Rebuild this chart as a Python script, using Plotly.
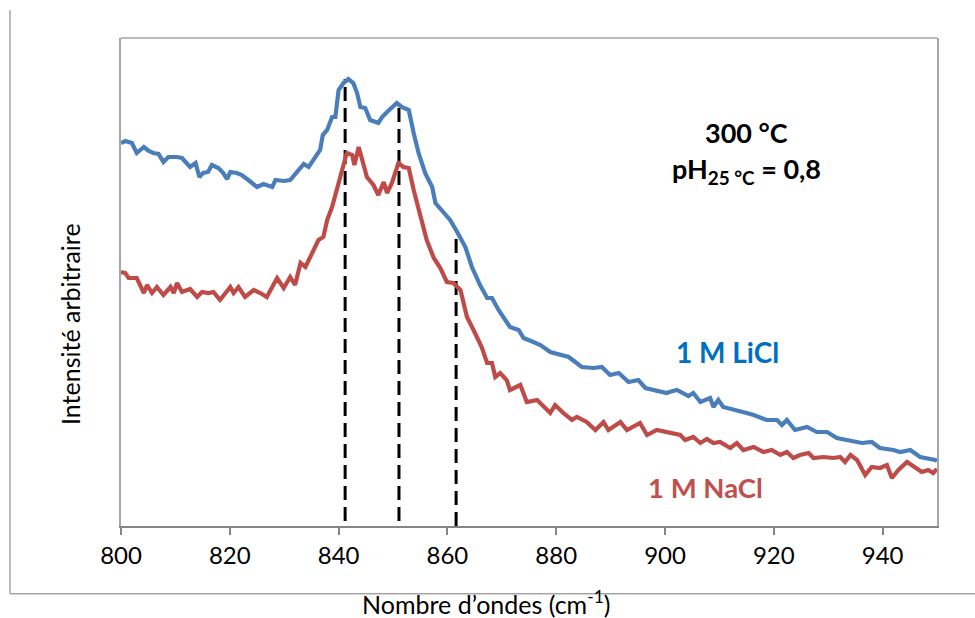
import plotly.graph_objects as go

# ---- data (intensity in arbitrary units) ----
licl_x = [800.0, 800.8, 802.0, 802.9, 804.2, 805.1, 805.9, 806.9, 807.8, 808.7, 810.3, 811.2, 812.7, 813.7,
          814.4, 815.1, 816.0, 816.7, 817.9, 818.8, 819.5, 820.1, 821.3, 822.2, 823.4, 825.0, 826.2, 827.8,
          828.4, 829.9, 831.1, 832.3, 833.6, 834.5, 835.7, 836.6, 837.1, 837.9, 838.8, 839.4, 840.0, 840.9,
          841.8, 842.7, 843.4, 844.0, 844.9, 845.8, 847.3, 848.0, 848.9, 849.8, 850.7, 851.6, 852.9, 853.8,
          854.7, 855.9, 857.2, 857.8, 859.3, 860.5, 861.8, 863.3, 864.5, 866.0, 867.3, 868.2, 869.4, 870.0,
          871.5, 873.1, 874.0, 875.8, 877.1, 878.9, 881.3, 882.3, 883.5, 884.7, 886.9, 888.4, 889.9, 891.5,
          893.3, 895.1, 896.4, 897.9, 900.3, 900.8, 902.2, 904.3, 905.2, 906.5, 908.3, 908.9, 909.8, 910.7,
          913.2, 915.0, 916.3, 918.7, 920.6, 921.5, 922.4, 923.9, 926.1, 927.9, 929.8, 931.6, 933.4, 936.2,
          938.0, 939.5, 942.0, 943.2, 945.1, 946.9, 949.7, 950.0]
licl_y = [383, 385, 383, 373, 379, 375, 373, 372, 364, 369, 369, 368, 359, 363,
          349, 353, 354, 361, 358, 353, 347, 354, 353, 351, 346, 339, 342, 339,
          346, 345, 346, 353, 362, 359, 369, 376, 391, 396, 409, 409, 436, 443,
          447, 443, 433, 419, 418, 406, 403, 409, 414, 419, 423, 419, 416, 393,
          373, 353, 339, 323, 313, 306, 294, 279, 259, 241, 228, 228, 216, 211,
          199, 196, 188, 184, 181, 174, 171, 169, 164, 159, 158, 159, 151, 153,
          144, 146, 138, 136, 133, 134, 136, 130, 133, 124, 128, 119, 126, 119,
          116, 113, 111, 106, 106, 101, 106, 96, 99, 94, 94, 88, 86, 83,
          84, 78, 76, 74, 76, 69, 66, 65]

nacl_x = [800.0, 800.8, 801.4, 802.9, 804.2, 804.8, 805.7, 806.6, 807.8, 809.1, 809.7, 810.3, 811.2, 812.7,
          814.0, 814.9, 816.1, 817.0, 818.2, 820.1, 820.7, 821.6, 822.8, 824.4, 825.6, 826.8, 827.8, 828.7,
          829.9, 831.1, 832.0, 833.0, 833.9, 835.1, 836.3, 837.2, 837.9, 838.8, 839.7, 840.6, 841.5, 842.5,
          842.9, 843.7, 844.3, 845.2, 846.4, 847.3, 848.3, 848.9, 849.8, 851.0, 851.9, 852.9, 853.8, 854.7,
          856.2, 857.5, 858.7, 859.9, 861.1, 862.4, 863.6, 864.8, 866.3, 867.3, 868.2, 868.8, 869.7, 870.9,
          871.5, 873.4, 874.6, 876.5, 877.7, 878.9, 879.8, 881.3, 882.9, 883.8, 885.6, 887.2, 888.7, 889.6,
          891.8, 893.0, 895.4, 896.7, 898.5, 901.0, 902.8, 903.7, 905.2, 906.5, 907.7, 908.9, 910.1, 912.0,
          913.2, 914.4, 916.3, 918.1, 919.6, 921.2, 922.4, 923.6, 924.8, 926.4, 927.3, 929.1, 931.0, 932.2,
          933.1, 934.1, 935.3, 936.8, 938.0, 939.5, 940.8, 941.7, 942.9, 944.5, 945.7, 947.2, 948.4, 949.3,
          950.0]
nacl_y = [254, 253, 248, 248, 233, 241, 233, 239, 231, 239, 233, 243, 234, 237,
          229, 234, 233, 234, 226, 239, 233, 239, 229, 236, 233, 229, 239, 248,
          238, 249, 241, 263, 259, 273, 286, 289, 306, 319, 336, 353, 373, 371,
          361, 379, 366, 349, 341, 331, 344, 333, 343, 363, 359, 358, 336, 316,
          286, 268, 258, 244, 243, 236, 209, 196, 179, 163, 163, 149, 153, 146,
          136, 141, 124, 126, 119, 113, 121, 113, 106, 109, 104, 96, 104, 96,
          104, 96, 103, 91, 96, 93, 91, 86, 89, 83, 87, 83, 84, 78,
          83, 76, 79, 74, 76, 71, 74, 68, 71, 73, 68, 69, 68, 69,
          64, 71, 66, 51, 59, 58, 61, 48, 56, 64, 59, 54, 56, 53,
          57]

# dashed markers of the band positions (wavenumber, top intensity, bottom intensity)
band_positions = [841.2, 851.1, 861.6]
band_tops = [447, 422, 294]
band_bottoms = [5, 5, 0]

x_ticks = [800, 820, 840, 860, 880, 900, 920, 940]
x_range = [800, 950]
y_range = [0, 488]

FONT = "Lato"
BLUE = "#4A7EBB"
RED = "#BE4B48"

fig = go.Figure()

for xp, yt, yb in zip(band_positions, band_tops, band_bottoms):
    fig.add_trace(go.Scatter(x=[xp, xp], y=[yb, yt], mode="lines",
                             line=dict(color="black", width=3, dash="14px,7px"),
                             hoverinfo="skip", showlegend=False))

fig.add_trace(go.Scatter(x=nacl_x, y=nacl_y, mode="lines", name="1 M NaCl",
                         line=dict(color=RED, width=4.2), showlegend=False))
fig.add_trace(go.Scatter(x=licl_x, y=licl_y, mode="lines", name="1 M LiCl",
                         line=dict(color=BLUE, width=4.2), showlegend=False))

fig.update_layout(
    width=975, height=618,
    margin=dict(l=121, r=38, t=38, b=92),
    paper_bgcolor="white", plot_bgcolor="white",
    font=dict(family=FONT, color="black"),
    showlegend=False,
    xaxis=dict(range=x_range, tickvals=x_ticks, ticks="outside", ticklen=7, tickcolor="#868686",
               tickwidth=1.5, showline=True, linecolor="#868686", linewidth=1.5, mirror=False,
               showgrid=False, zeroline=False, tickfont=dict(size=24, family=FONT, color="black")),
    yaxis=dict(range=y_range, showticklabels=False, ticks="", showline=True, linecolor="#A6A6A6",
               linewidth=1.5, mirror=True, showgrid=False, zeroline=False),
    shapes=[
        dict(type="line", xref="paper", yref="paper", x0=0, x1=1, y0=1, y1=1,
             line=dict(color="#A6A6A6", width=1.5)),
        dict(type="line", xref="paper", yref="paper", x0=-0.136, x1=-0.136, y0=-0.139, y1=1.057,
             line=dict(color="#A6A6A6", width=1.5)),
        dict(type="line", xref="paper", yref="paper", x0=-0.136, x1=1.05, y0=-0.139, y1=-0.139,
             line=dict(color="#A6A6A6", width=1.5)),
    ],
    annotations=[
        dict(text="<b>300 °C</b>", xref="paper", yref="paper", x=0.767, y=0.806,
             xanchor="center", yanchor="middle",
             showarrow=False, font=dict(size=27, family=FONT, color="black")),
        dict(text="<b>pH<sub>25 °C</sub> = 0,8</b>", xref="paper", yref="paper", x=0.767, y=0.728,
             xanchor="center", yanchor="middle",
             showarrow=False, font=dict(size=27, family=FONT, color="black")),
        dict(text="<b>1 M LiCl</b>", xref="paper", yref="paper", x=0.743, y=0.357,
             xanchor="center", yanchor="middle",
             showarrow=False, font=dict(size=28, family=FONT, color="#0070C0")),
        dict(text="<b>1 M NaCl</b>", xref="paper", yref="paper", x=0.716, y=0.078,
             xanchor="center", yanchor="middle",
             showarrow=False, font=dict(size=27.5, family=FONT, color="#C0504D")),
        dict(text="Nombre d’ondes (cm<sup>-1</sup>)", xref="paper", yref="paper", x=0.447, y=-0.157,
             xanchor="center", yanchor="middle", showarrow=False,
             font=dict(size=25, family=FONT, color="black")),
        dict(text="Intensité arbitraire", xref="paper", yref="paper", x=-0.0625, y=0.414,
             xanchor="center", yanchor="middle", showarrow=False, textangle=-90,
             font=dict(size=25, family=FONT, color="black")),
    ],
)

fig.write_html("out.html", config={"displayModeBar": False},
               post_script="document.body.style.margin='0';document.body.style.overflow='hidden';")
